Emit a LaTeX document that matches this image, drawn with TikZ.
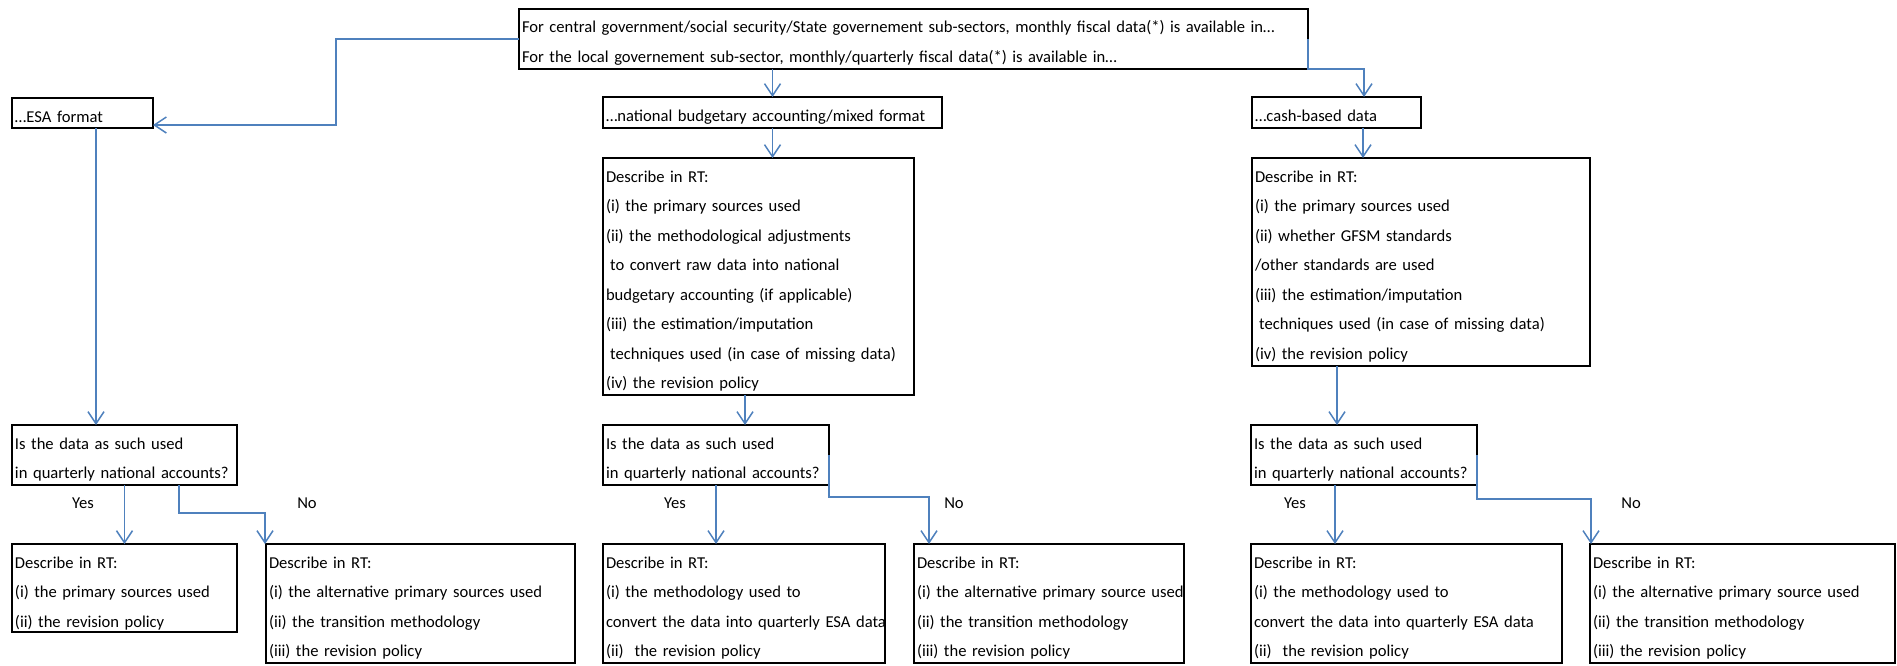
\documentclass[tikz,border=0pt]{standalone}
\usepackage{fontspec}
\setmainfont{Carlito}
\usetikzlibrary{arrows.meta,calc}
\definecolor{linkblue}{HTML}{4F81BD}
\begin{document}
\begin{tikzpicture}[x=0.5pt,y=-0.5pt,
  box/.style={draw=black,line width=1pt,anchor=north west,inner xsep=1.5pt,inner ysep=0pt,outer sep=0pt,
    align=left,text height=12pt,font=\fontsize{8.3pt}{14.75pt}\selectfont},
  link/.style={draw=linkblue,line width=0.75pt,-{Straight Barb[length=6pt,width=8pt]}},
  lab/.style={font=\fontsize{8.3pt}{10pt}\selectfont,inner sep=0pt}]
\useasboundingbox (0,0) rectangle (1897,665);

\node[box,text width=391.5pt,text depth=18.25pt] (top) at (519,8.5)
  {\mbox{For central government/social security/State governement sub-sectors, monthly fiscal data(*) is available in…}\\
   \mbox{For the local governement sub-sector, monthly/quarterly fiscal data(*) is available in…}};

\node[box,text width=67.5pt,text depth=3pt] (esa) at (12,98) {\mbox{…ESA format}};
\node[box,text width=166.5pt,text depth=3.5pt] (nba) at (603,97) {\mbox{…national budgetary accounting/mixed format}};
\node[box,text width=81.5pt,text depth=3.5pt] (cash) at (1252,97) {\mbox{…cash-based data}};

\node[box,text width=152.5pt,text depth=106.5pt] (d2) at (603,158)
  {Describe in RT:\\
   \mbox{(i) the primary sources used}\\
   \mbox{(ii) the methodological adjustments}\\
   \mbox{\hspace*{0.25em}to convert raw data into national}\\
   \mbox{budgetary accounting (if applicable)}\\
   \mbox{(iii) the estimation/imputation}\\
   \mbox{\hspace*{0.25em}techniques used (in case of missing data)}\\
   \mbox{(iv) the revision policy}};

\node[box,text width=166pt,text depth=92pt] (d3) at (1252,158)
  {Describe in RT:\\
   \mbox{(i) the primary sources used}\\
   \mbox{(ii) whether GFSM standards}\\
   \mbox{/other standards are used}\\
   \mbox{(iii) the estimation/imputation}\\
   \mbox{\hspace*{0.25em}techniques used (in case of missing data)}\\
   \mbox{(iv) the revision policy}};

\node[box,text width=109.5pt,text depth=18pt] (q1) at (12,425)
  {\mbox{Is the data as such used}\\\mbox{in quarterly national accounts?}};
\node[box,text width=110pt,text depth=18pt] (q2) at (603,425)
  {\mbox{Is the data as such used}\\\mbox{in quarterly national accounts?}};
\node[box,text width=110pt,text depth=18pt] (q3) at (1251,425)
  {\mbox{Is the data as such used}\\\mbox{in quarterly national accounts?}};

\node[box,text width=109.5pt,text depth=32pt] (a1) at (12,544)
  {Describe in RT:\\\mbox{(i) the primary sources used}\\\mbox{(ii) the revision policy}};
\node[box,text width=151.5pt,text depth=47.5pt] (a2) at (266,544)
  {Describe in RT:\\\mbox{(i) the alternative primary sources used}\\\mbox{(ii) the transition methodology}\\\mbox{(iii) the revision policy}};
\node[box,text width=138pt,text depth=47.5pt] (a3) at (603,544)
  {Describe in RT:\\\mbox{(i) the methodology used to}\\\mbox{convert the data into quarterly ESA data}\\\mbox{(ii)\ \ the revision policy}};
\node[box,text width=132pt,text depth=47.5pt] (a4) at (914,544)
  {Describe in RT:\\\mbox{(i) the alternative primary source used}\\\mbox{(ii) the transition methodology}\\\mbox{(iii) the revision policy}};
\node[box,text width=152.5pt,text depth=47.5pt] (a5) at (1251,544)
  {Describe in RT:\\\mbox{(i) the methodology used to}\\\mbox{convert the data into quarterly ESA data}\\\mbox{(ii)\ \ the revision policy}};
\node[box,text width=149.5pt,text depth=47.5pt] (a6) at (1590,544)
  {Describe in RT:\\\mbox{(i) the alternative primary source used}\\\mbox{(ii) the transition methodology}\\\mbox{(iii) the revision policy}};

\node[lab] (yes1) at (83,503) {Yes};
\node[lab] (no1) at (307,503) {No};
\node[lab] (yes2) at (675,503) {Yes};
\node[lab] (no2) at (954,503) {No};
\node[lab] (yes3) at (1295,503) {Yes};
\node[lab] (no3) at (1631,503) {No};

% connectors
\draw[link] (top.west) -- ++(-183,0) |- ($(esa.south east)+(0,-3)$);
\draw[link] (nba.north |- top.south) -- (nba.north);
\draw[link] (top.east) -- (top.south east) -| ($(cash.north)+(27.5,0)$);

\draw[link] (nba.south) -- (nba.south |- d2.north);
\coordinate (c1) at ($(cash.south)+(26.5,0)$);
\draw[link] (c1) -- (c1 |- d3.north);

\coordinate (c2) at ($(esa.south)+(13.5,0)$);
\draw[link] (c2) -- (c2 |- q1.north);
\coordinate (c3) at ($(d2.south)+(-13.5,0)$);
\draw[link] (c3) -- (c3 |- q2.north);
\coordinate (c4) at ($(d3.south)+(-84,0)$);
\draw[link] (c4) -- (c4 |- q3.north);

\draw[link] (q1.south) -- (q1.south |- a1.north);
\coordinate (c5) at ($(q1.south)+(54.5,0)$);
\draw[link] (c5) -- ++(0,28) -| ($(a2.north west)+(-1,0)$);

\draw[link] (q2.south) -- (q2.south |- a3.north);
\draw[link] (q2.east) -- ++(0,42) -| ($(a4.north west)+(15,0)$);

\coordinate (c6) at ($(q3.south)+(-29,0)$);
\draw[link] (c6) -- (c6 |- a5.north);
\draw[link] (q3.east) -- ++(0,44) -| ($(a6.north west)+(1,0)$);
\end{tikzpicture}
\end{document}
